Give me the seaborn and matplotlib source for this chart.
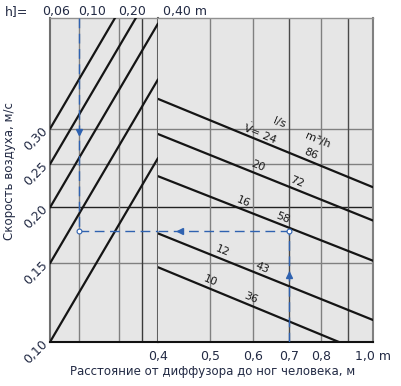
import numpy as np
import pandas as pd
import matplotlib
matplotlib.use("Agg")
import matplotlib.pyplot as plt
import matplotlib.transforms as mtrans
import seaborn as sns
from matplotlib.ticker import NullLocator, NullFormatter

# ---------------- data ----------------
# left panel: height h (top scale) vs air speed, parallel lines
h_ticks = [0.06, 0.10, 0.20, 0.40]
h_tick_labels = ["0,06", "0,10", "0,20", "0,40 m"]
h_grid = [0.10, 0.20, 0.30]
h_ends = [0.06, 0.40]
left_v_start = [0.10, 0.15, 0.20, 0.25, 0.30]      # speed at h = 0.06
left_v_end = [0.258, 0.387, 0.516, 0.645, 0.775]   # speed at h = 0.40

# right panel: distance vs air speed for flow rates
dist_ends = [0.4, 1.0]
flow_ls = [24, 20, 16, 12, 10]
flow_m3h = [86, 72, 58, 43, 36]
right_v_start = [0.350, 0.292, 0.235, 0.175, 0.147]  # at 0.4 m
right_v_end = [0.222, 0.187, 0.152, 0.112, 0.093]    # at 1.0 m

x_ticks = [0.4, 0.5, 0.6, 0.7, 0.8, 1.0]
x_tick_labels = ["0,4", "0,5", "0,6", "0,7", "0,8", "1,0 m"]
x_grid = [0.5, 0.6, 0.7, 0.8, 0.9]
y_ticks = [0.10, 0.15, 0.20, 0.25, 0.30]
y_tick_labels = ["0,10", "0,15", "0,20", "0,25", "0,30"]

# example path (blue dashed)
ex_h = 0.10
ex_v = 0.177
ex_dist = 0.70

# label positions along lines (x in metres)
ls_label_x = [0.619, 0.612, 0.576, 0.526, 0.501]
m3h_label_x = [0.766, 0.724, 0.682, 0.624, 0.595]

# ---------------- style ----------------
sns.set_style("white")
plt.rcParams["font.family"] = ["DejaVu Sans"]
TXT = "#222a44"
BG = "#e6e6e6"
GRID = "#808080"
BLUE = "#2f62b0"

W, H = 401, 386
fig = plt.figure(figsize=(W / 100, H / 100), dpi=100)
bot = (H - 342) / H
hgt = 324 / H
axL = fig.add_axes([50 / W, bot, 108 / W, hgt])
axR = fig.add_axes([158 / W, bot, 215 / W, hgt], sharey=axL)

for ax in (axL, axR):
    ax.set_facecolor(BG)
    ax.set_yscale("log")
    ax.set_xscale("log")
axL.set_xlim(0.06, 0.40)
axR.set_xlim(0.4, 1.0)
axL.set_ylim(0.10, 0.531)

# grid lines
for ax in (axL, axR):
    for v in [0.15, 0.25, 0.30]:
        ax.axhline(v, color=GRID, lw=1.0, zorder=1)
    ax.axhline(0.20, color="#222222", lw=1.0, zorder=1)
for h in h_grid:
    axL.axvline(h, color="#3a3a3a" if h == 0.30 else GRID, lw=1.0, zorder=1)
for d in x_grid:
    axR.axvline(d, color="#4a4a4a" if d in (0.7, 0.9) else GRID, lw=1.0, zorder=1)

# left lines
dfL = pd.DataFrame({
    "h": np.tile(h_ends, len(left_v_start)),
    "v": np.ravel(np.column_stack([left_v_start, left_v_end])),
    "line": np.repeat(np.arange(len(left_v_start)), 2),
})
sns.lineplot(data=dfL, x="h", y="v", units="line", estimator=None,
             color="#151515", lw=1.6, ax=axL, legend=False, zorder=3)

# right lines
dfR = pd.DataFrame({
    "d": np.tile(dist_ends, len(flow_ls)),
    "v": np.ravel(np.column_stack([right_v_start, right_v_end])),
    "flow": np.repeat(flow_ls, 2),
})
sns.lineplot(data=dfR, x="d", y="v", units="flow", estimator=None,
             color="#151515", lw=1.6, ax=axR, legend=False, zorder=3)

# blue dashed example
dash = dict(color=BLUE, lw=1.0, dashes=(7, 4), zorder=4)
axL.plot([ex_h, ex_h], [0.531, ex_v], **dash)
axL.plot([ex_h, 0.40], [ex_v, ex_v], **dash)
axR.plot([0.40, ex_dist], [ex_v, ex_v], **dash)
axR.plot([ex_dist, ex_dist], [0.10, ex_v], **dash)
axL.plot([ex_h], [ex_v], "o", ms=3.5, mfc="white", mec=BLUE, mew=0.8, zorder=5)
axR.plot([ex_dist], [ex_v], "o", ms=3.5, mfc="white", mec=BLUE, mew=0.8, zorder=5)
axL.plot([ex_h], [0.295], marker="v", ms=5, color=BLUE, zorder=5)
axR.plot([0.439], [ex_v], marker="<", ms=5, color=BLUE, zorder=5)
axR.plot([ex_dist], [0.141], marker="^", ms=5, color=BLUE, zorder=5)

# line labels
def line_v(x, i):
    lx0, lx1 = np.log(dist_ends)
    a = (np.log(right_v_end[i]) - np.log(right_v_start[i])) / (lx1 - lx0)
    return np.exp(np.log(right_v_start[i]) + a * (np.log(x) - lx0))

p0 = axR.transData.transform((0.4, right_v_start[0]))
p1 = axR.transData.transform((1.0, right_v_end[0]))
ang = np.degrees(np.arctan2(p1[1] - p0[1], p1[0] - p0[0]))

lab_kw = dict(textcoords="offset pixels", rotation=ang, ha="center", va="center",
              rotation_mode="anchor", fontsize=8, color="#1a1a1a", zorder=6)
for i, (q, m) in enumerate(zip(flow_ls, flow_m3h)):
    txt = r"$\dot{\mathrm{V}}$= " + str(q) if i == 0 else str(q)
    x = ls_label_x[i]
    axR.annotate(txt, (x, line_v(x, i)), xytext=(0, 8), **lab_kw)
    x = m3h_label_x[i]
    axR.annotate(str(m), (x, line_v(x, i)), xytext=(0, 8), **lab_kw)
axR.annotate("l/s", (0.671, line_v(0.671, 0)), xytext=(0, 26), **lab_kw)
axR.annotate("m³/h", (0.789, line_v(0.789, 0)), xytext=(0, 24), **lab_kw)

# ticks
for ax in (axL, axR):
    ax.xaxis.set_minor_locator(NullLocator())
    ax.yaxis.set_minor_locator(NullLocator())
    ax.xaxis.set_minor_formatter(NullFormatter())
    ax.yaxis.set_minor_formatter(NullFormatter())
    ax.set_xlabel("")
    ax.set_ylabel("")

axL.set_yticks(y_ticks)
axL.set_yticklabels(y_tick_labels)
axL.yaxis.set_minor_locator(NullLocator())
axL.tick_params(axis="y", length=0, pad=3, labelsize=9, labelcolor=TXT)
for t in axL.get_yticklabels():
    t.set_rotation(45)
    t.set_ha("right")
    t.set_va("center")
    t.set_rotation_mode("anchor")

axL.set_xticks(h_ticks)
axL.set_xticklabels(h_tick_labels)
axL.xaxis.set_minor_locator(NullLocator())
axL.tick_params(axis="x", top=True, labeltop=True, bottom=False, labelbottom=False,
                length=0, pad=0, labelsize=9, labelcolor=TXT)
top_shift = [-8, -1, 0, 5]
for t, s in zip(axL.get_xticklabels(), top_shift):
    t.set_ha("left")
    t.set_transform(t.get_transform() + mtrans.ScaledTranslation(s / 100, 0, fig.dpi_scale_trans))

axR.set_xticks(x_ticks)
axR.set_xticklabels(x_tick_labels)
axR.xaxis.set_minor_locator(NullLocator())
axR.tick_params(axis="x", length=0, pad=6, labelsize=9, labelcolor=TXT)
axR.tick_params(axis="y", left=False, labelleft=False, length=0)

# spines
for ax in (axL, axR):
    ax.spines["bottom"].set_color("#111111")
    ax.spines["bottom"].set_linewidth(1.5)
    ax.spines["top"].set_color("#909090")
    ax.spines["top"].set_linewidth(1.0)
axL.spines["left"].set_color("#707070")
axL.spines["left"].set_linewidth(1.5)
axL.spines["right"].set_color("#606060")
axL.spines["right"].set_linewidth(1.5)
axR.spines["left"].set_visible(False)
axR.spines["right"].set_color("#808080")
axR.spines["right"].set_linewidth(1.5)

fig.text(5 / W, 1 - 12 / H, "h]=", fontsize=9, color=TXT, va="center", ha="left")
fig.text(10 / W, 1 - 171 / H, "Скорость воздуха, м/с", rotation=90,
         fontsize=8.5, color=TXT, ha="center", va="center")
fig.text(213 / W, 1 - 371 / H, "Расстояние от диффузора до ног человека, м",
         fontsize=8.5, color=TXT, ha="center", va="center")

fig.savefig("out.png", dpi=100)
